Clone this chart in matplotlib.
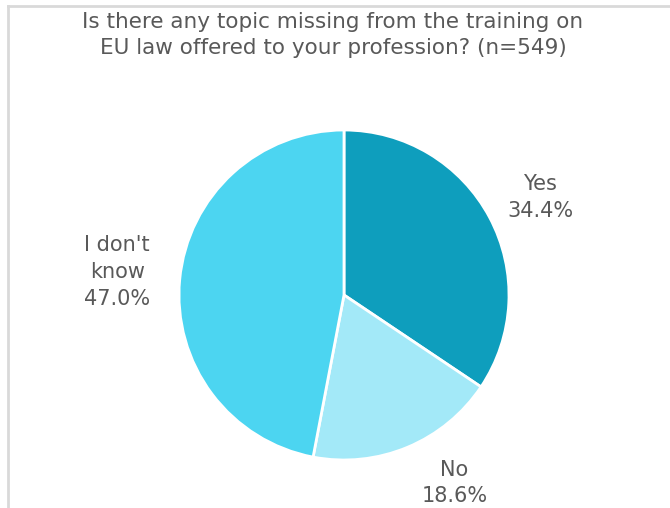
import matplotlib
matplotlib.use("Agg")
import matplotlib.pyplot as plt
from matplotlib.lines import Line2D

# data
labels = ["Yes", "No", "I don't\nknow"]
shares = [34.4, 18.6, 47.0]
colors = ["#0E9EBD", "#A3E9F8", "#4CD5F1"]
title = "Is there any topic missing from the training on\nEU law offered to your profession? (n=549)"

W, H = 670, 508
fig = plt.figure(figsize=(W / 100, H / 100), dpi=100)
fig.patch.set_facecolor("white")

# axes placed so the pie (radius 1) sits at ~(344, 295) px with radius ~165 px
px = 165.0
cx, cy = 344, H - 295
ax = fig.add_axes([(cx - 2 * px) / W, (cy - 1.25 * px) / H, 4 * px / W, 2.5 * px / H])
ax.set_xlim(-2, 2)
ax.set_ylim(-1.25, 1.25)
ax.set_aspect("equal")
ax.axis("off")

txt = [f"{l}\n{v:.1f}%" for l, v in zip(labels, shares)]
wedges, texts = ax.pie(shares, labels=txt, colors=colors, startangle=90,
                       counterclock=False, labeldistance=1.33,
                       wedgeprops=dict(edgecolor="white", linewidth=2),
                       textprops=dict(color="#595959", fontsize=15,
                                      linespacing=1.42))
for t in texts:
    t.set_ha("center")
    t.set_va("center")
    t.set_multialignment("center")

# nudge labels to where the reference has them
texts[0].set_position((1.19, 0.59))
texts[1].set_position((0.67, -1.14))
texts[2].set_position((-1.375, 0.14))

fig.text(333 / W, 1 - 35 / H, title, ha="center", va="center",
         color="#595959", fontsize=15.5, linespacing=1.38)

# light frame on top and left
fig.add_artist(Line2D([8 / W, 1], [1 - 6 / H, 1 - 6 / H], color="#D9D9D9", lw=2))
fig.add_artist(Line2D([8 / W, 8 / W], [0, 1 - 6 / H], color="#D9D9D9", lw=2))

fig.savefig("out.png", dpi=100, facecolor="white")
